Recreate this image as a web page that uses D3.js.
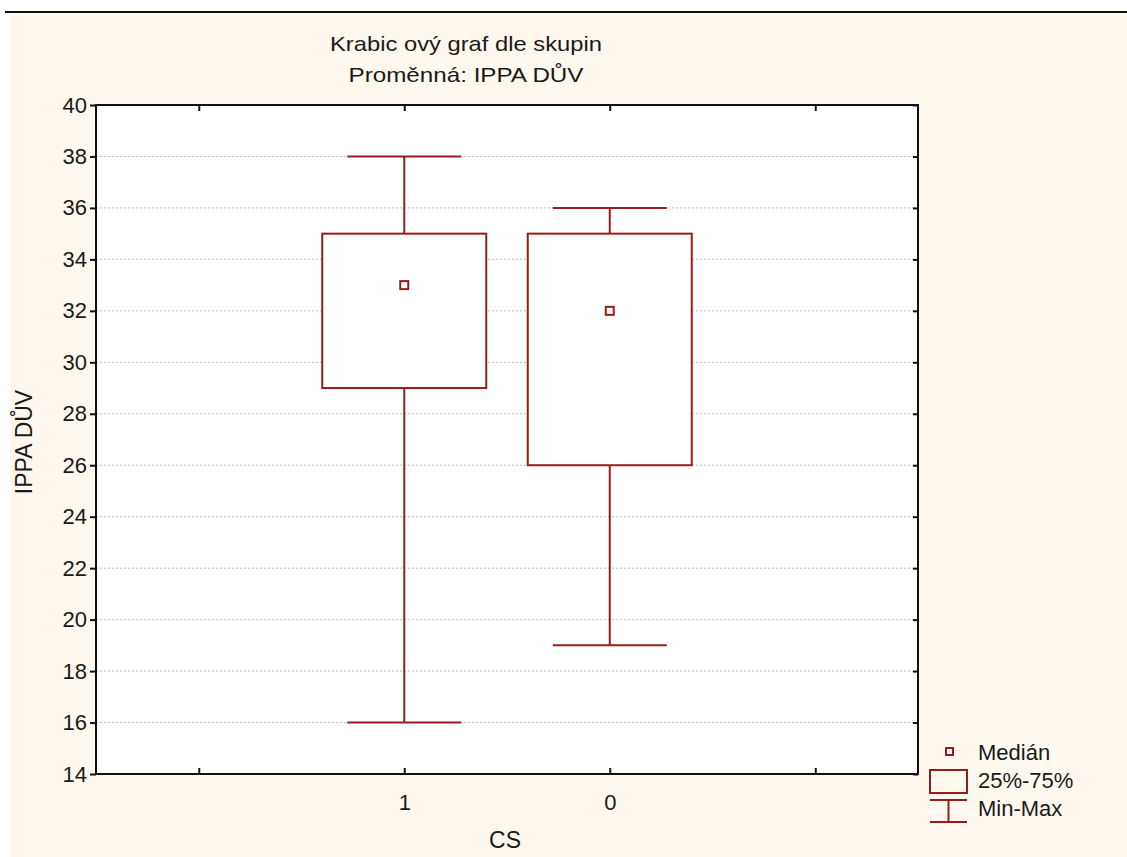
<!DOCTYPE html>
<html>
<head>
<meta charset="utf-8">
<script src="https://cdn.jsdelivr.net/npm/d3@7"></script>
<style>
  body { margin: 0; background: #fff; }
  text { font-family: "Liberation Sans", Arial, sans-serif; fill: #1a1a1a; }
</style>
</head>
<body>
<div id="chart"></div>
<script>
var svgWidth = 1127;
var svgHeight = 857;

var margin = { top: 105, right: 209, bottom: 83, left: 96 };
var chartWidth = svgWidth - margin.left - margin.right;
var chartHeight = svgHeight - margin.top - margin.bottom;

// data
var slots = ["a", "1", "0", "b"];
var groups = ["1", "0"];
var minVals = [16, 19];
var q1Vals = [29, 26];
var medianVals = [33, 32];
var q3Vals = [35, 35];
var maxVals = [38, 36];
var yTicks = [14, 16, 18, 20, 22, 24, 26, 28, 30, 32, 34, 36, 38, 40];
var legendLabels = ["Medián", "25%-75%", "Min-Max"];

var red = "#971c1c";

var svg = d3.select("#chart")
    .append("svg")
    .attr("width", svgWidth)
    .attr("height", svgHeight);

// background
svg.append("rect")
    .attr("x", 10).attr("y", 13)
    .attr("width", svgWidth - 10).attr("height", svgHeight - 13)
    .attr("fill", "#fef8ee");
svg.append("line")
    .attr("x1", 5).attr("x2", svgWidth)
    .attr("y1", 12).attr("y2", 12)
    .attr("stroke", "#111").attr("stroke-width", 2);

var chartGroup = svg.append("g")
    .attr("transform", `translate(${margin.left},${margin.top})`);

var xScale = d3.scalePoint()
    .domain(slots)
    .range([0, chartWidth])
    .padding(0.5);

var yScale = d3.scaleLinear()
    .domain([14, 40])
    .range([chartHeight, 0]);

chartGroup.append("rect")
    .attr("width", chartWidth).attr("height", chartHeight)
    .attr("fill", "#fff");

// grid
chartGroup.append("g").selectAll("line")
    .data(yTicks.filter(function(d) { return d > 14 && d < 40; }))
    .enter().append("line")
    .attr("x1", 0).attr("x2", chartWidth)
    .attr("y1", function(d) { return yScale(d); })
    .attr("y2", function(d) { return yScale(d); })
    .attr("stroke", "#bbb")
    .attr("stroke-width", 1)
    .attr("stroke-dasharray", "2,2");

// axes
var leftAxis = d3.axisLeft(yScale).tickValues(yTicks).tickSize(6).tickPadding(3);
var rightAxis = d3.axisLeft(yScale).tickValues(yTicks).tickSize(5).tickFormat("");
var bottomAxis = d3.axisBottom(xScale).tickSize(-6).tickPadding(20)
    .tickFormat(function(d) { return groups.indexOf(d) >= 0 ? d : ""; });
var topAxis = d3.axisBottom(xScale).tickSize(6).tickFormat("");

function styleAxis(g) {
  g.select(".domain").remove();
  g.selectAll("line").attr("stroke", "#111").attr("stroke-width", 2);
  g.selectAll("text").attr("font-size", 22).attr("fill", "#1a1a1a")
    .attr("font-family", "Liberation Sans, Arial, sans-serif");
}

chartGroup.append("g").call(leftAxis).call(styleAxis);
chartGroup.append("g").attr("transform", `translate(${chartWidth},0)`).call(rightAxis).call(styleAxis);
chartGroup.append("g").attr("transform", `translate(0,${chartHeight})`).call(bottomAxis).call(styleAxis);
chartGroup.append("g").call(topAxis).call(styleAxis);

chartGroup.append("rect")
    .attr("width", chartWidth).attr("height", chartHeight)
    .attr("fill", "none").attr("stroke", "#111").attr("stroke-width", 2);

// boxes
var boxHalf = 82;
var capHalf = 57;
var boxes = chartGroup.append("g").selectAll("g")
    .data(groups)
    .enter().append("g")
    .attr("transform", function(d) { return "translate(" + xScale(d) + ",0)"; });

boxes.append("line")
    .attr("x1", 0).attr("x2", 0)
    .attr("y1", function(d, i) { return yScale(maxVals[i]); })
    .attr("y2", function(d, i) { return yScale(minVals[i]); })
    .attr("stroke", red).attr("stroke-width", 2);
boxes.append("line")
    .attr("x1", -capHalf).attr("x2", capHalf)
    .attr("y1", function(d, i) { return yScale(maxVals[i]); })
    .attr("y2", function(d, i) { return yScale(maxVals[i]); })
    .attr("stroke", red).attr("stroke-width", 2);
boxes.append("line")
    .attr("x1", -capHalf).attr("x2", capHalf)
    .attr("y1", function(d, i) { return yScale(minVals[i]); })
    .attr("y2", function(d, i) { return yScale(minVals[i]); })
    .attr("stroke", red).attr("stroke-width", 2);
boxes.append("rect")
    .attr("x", -boxHalf).attr("width", boxHalf * 2)
    .attr("y", function(d, i) { return yScale(q3Vals[i]); })
    .attr("height", function(d, i) { return yScale(q1Vals[i]) - yScale(q3Vals[i]); })
    .attr("fill", "#fff").attr("stroke", red).attr("stroke-width", 2);
boxes.append("rect")
    .attr("x", -4).attr("width", 8)
    .attr("y", function(d, i) { return yScale(medianVals[i]) - 4; })
    .attr("height", 8)
    .attr("fill", "none").attr("stroke", red).attr("stroke-width", 2);

// titles
svg.append("text")
    .attr("x", 466).attr("y", 51)
    .attr("text-anchor", "middle").attr("font-size", 21)
    .attr("textLength", 272).attr("lengthAdjust", "spacingAndGlyphs")
    .text("Krabic ový graf dle skupin");
svg.append("text")
    .attr("x", 466).attr("y", 82)
    .attr("text-anchor", "middle").attr("font-size", 21)
    .attr("textLength", 235).attr("lengthAdjust", "spacingAndGlyphs")
    .text("Proměnná: IPPA DŮV");

svg.append("text")
    .attr("transform", "translate(32,442) rotate(-90)")
    .attr("text-anchor", "middle").attr("font-size", 23)
    .text("IPPA DŮV");
svg.append("text")
    .attr("x", 505).attr("y", 848)
    .attr("text-anchor", "middle").attr("font-size", 23)
    .text("CS");

// legend
var legend = svg.append("g").attr("transform", "translate(930,752)");
legend.append("rect")
    .attr("x", 16).attr("y", -4).attr("width", 7).attr("height", 7)
    .attr("fill", "none").attr("stroke", red).attr("stroke-width", 2);
legend.append("rect")
    .attr("x", 0).attr("y", 18).attr("width", 37).attr("height", 23)
    .attr("fill", "none").attr("stroke", red).attr("stroke-width", 2);
legend.append("line").attr("x1", 0).attr("x2", 37).attr("y1", 48).attr("y2", 48)
    .attr("stroke", red).attr("stroke-width", 2);
legend.append("line").attr("x1", 0).attr("x2", 37).attr("y1", 70).attr("y2", 70)
    .attr("stroke", red).attr("stroke-width", 2);
legend.append("line").attr("x1", 18.5).attr("x2", 18.5).attr("y1", 48).attr("y2", 70)
    .attr("stroke", red).attr("stroke-width", 2);

legend.selectAll("text.lab")
    .data(legendLabels)
    .enter().append("text")
    .attr("class", "lab")
    .attr("x", 48)
    .attr("y", function(d, i) { return 8 + i * 28; })
    .attr("font-size", 22)
    .text(function(d) { return d; });
</script>
</body>
</html>
